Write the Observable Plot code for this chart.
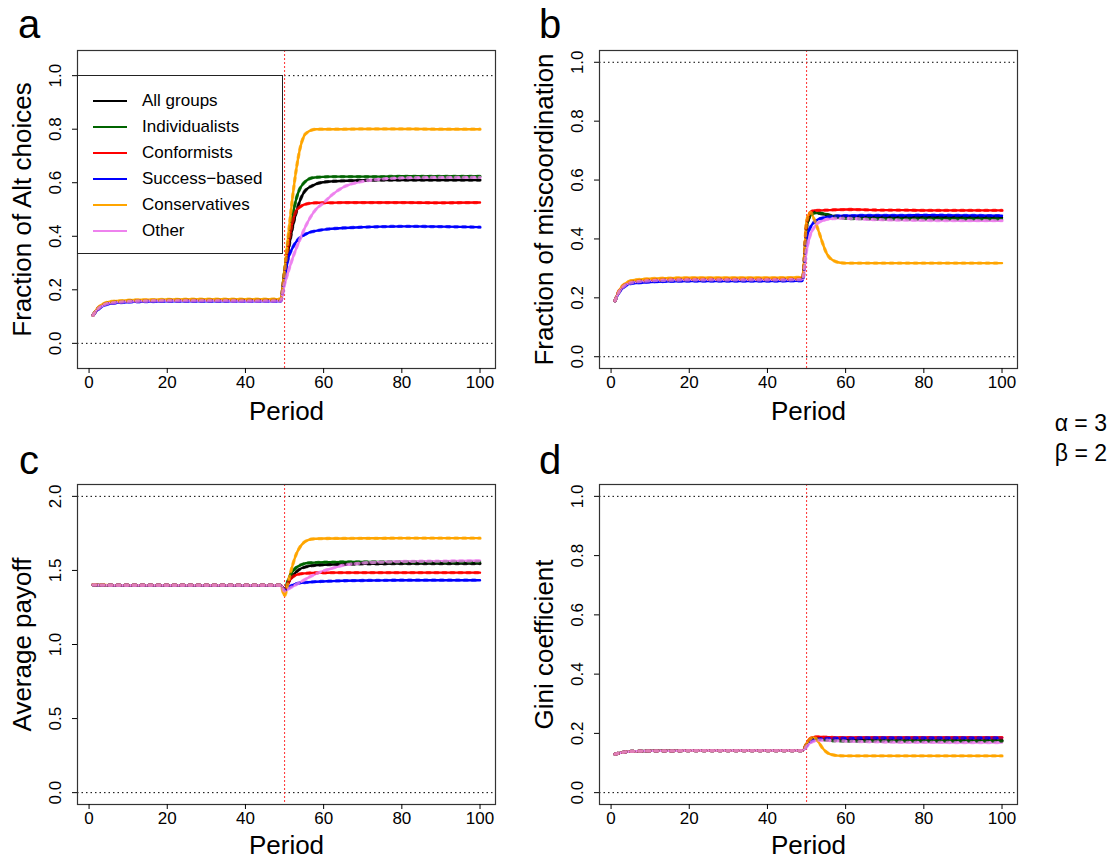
<!DOCTYPE html>
<html>
<head>
<meta charset="utf-8">
<script src="https://cdn.jsdelivr.net/npm/d3@7"></script>
<script src="https://cdn.jsdelivr.net/npm/@observablehq/plot@0.6"></script>
<style>
  body { margin: 0; background: #fff; }
  #root { position: relative; width: 1110px; height: 859px; background: #fff;
          font-family: "Liberation Sans", Arial, Helvetica, sans-serif; color: #000; }
  .panel { position: absolute; }
  .plab { position: absolute; font-size: 40px; line-height: 40px; }
  g[aria-label="x-axis label"], g[aria-label="y-axis label"] { font-size: 26px; }
  #legend { position: absolute; background: #fff; border: 1px solid #222; box-sizing: border-box; }
  .lrow { position: absolute; left: 0; height: 20px; font-size: 17px; line-height: 20px; white-space: nowrap; }
  .lsw { position: absolute; left: 15px; top: 9px; width: 34px; height: 2px; }
  .ltx { position: absolute; left: 64px; top: 0; }
  #params { position: absolute; right: 3px; top: 408px; font-size: 23px; line-height: 30px; text-align: right; }
</style>
</head>
<body>
<div id="root"></div>
<script>
// ---------------- data ----------------
const periods = [1,2,3,4,5,7,10,15,20,30,40,49,50,51,52,53,54,55,56,57,58,60,62,65,70,75,80,90,100];
const groups = ["All groups","Individualists","Conformists","Success\u2212based","Conservatives","Other"];
const groupColors = ["#000000","#006400","#ff0000","#0000ff","#ffa500","#ee82ee"];
const xTicks = [0,20,40,60,80,100];
const switchPeriod = [50];

// a: Fraction of Alt choices
const altAll = [0.105,0.125,0.138,0.146,0.150,0.154,0.157,0.159,0.160,0.160,0.160,0.160, 0.26,0.35,0.43,0.49,0.535,0.565,0.58,0.588,0.595,0.602,0.605,0.607,0.609,0.61,0.61,0.61,0.61];
const altInd = [0.105,0.126,0.139,0.147,0.151,0.155,0.158,0.160,0.161,0.161,0.161,0.161, 0.27,0.38,0.47,0.54,0.58,0.60,0.612,0.618,0.62,0.622,0.623,0.623,0.623,0.623,0.624,0.624,0.624];
const altCon = [0.105,0.125,0.138,0.146,0.150,0.154,0.157,0.159,0.160,0.160,0.160,0.160, 0.26,0.37,0.45,0.495,0.51,0.518,0.522,0.524,0.525,0.525,0.525,0.526,0.526,0.526,0.526,0.525,0.526];
const altSuc = [0.105,0.122,0.135,0.143,0.147,0.151,0.154,0.156,0.157,0.157,0.157,0.157, 0.24,0.32,0.355,0.38,0.395,0.405,0.412,0.417,0.42,0.425,0.428,0.431,0.434,0.436,0.437,0.436,0.434];
const altCsv = [0.105,0.128,0.142,0.150,0.155,0.158,0.161,0.163,0.164,0.165,0.165,0.166, 0.27,0.41,0.54,0.65,0.73,0.775,0.79,0.797,0.80,0.80,0.80,0.80,0.801,0.801,0.801,0.80,0.80];
const altOth = [0.105,0.124,0.137,0.145,0.149,0.153,0.156,0.158,0.159,0.159,0.158,0.158, 0.22,0.27,0.315,0.355,0.39,0.425,0.455,0.48,0.50,0.525,0.553,0.583,0.605,0.614,0.618,0.62,0.62];

// b: Fraction of miscoordination
const misAll = [0.19,0.220,0.237,0.247,0.252,0.256,0.259,0.261,0.262,0.262,0.262,0.263, 0.44,0.48,0.49,0.488,0.485,0.482,0.48,0.478,0.477,0.476,0.476,0.475,0.475,0.474,0.474,0.474,0.474];
const misInd = [0.19,0.220,0.237,0.247,0.252,0.256,0.259,0.260,0.261,0.261,0.261,0.262, 0.44,0.48,0.488,0.488,0.487,0.484,0.48,0.476,0.473,0.47,0.469,0.469,0.468,0.468,0.468,0.468,0.468];
const misCon = [0.19,0.222,0.239,0.249,0.254,0.258,0.261,0.263,0.264,0.264,0.264,0.265, 0.45,0.49,0.497,0.497,0.497,0.498,0.498,0.499,0.499,0.50,0.50,0.499,0.498,0.498,0.497,0.497,0.497];
const misSuc = [0.19,0.217,0.233,0.243,0.248,0.251,0.254,0.256,0.257,0.257,0.257,0.258, 0.40,0.44,0.458,0.467,0.471,0.474,0.476,0.477,0.478,0.479,0.479,0.48,0.48,0.48,0.481,0.48,0.479];
const misCsv = [0.19,0.223,0.242,0.252,0.258,0.262,0.265,0.267,0.268,0.268,0.268,0.270, 0.46,0.49,0.465,0.43,0.39,0.355,0.335,0.326,0.321,0.318,0.318,0.318,0.318,0.318,0.318,0.318,0.318];
const misOth = [0.19,0.219,0.236,0.246,0.251,0.255,0.258,0.260,0.261,0.261,0.261,0.262, 0.36,0.415,0.44,0.455,0.461,0.466,0.468,0.469,0.47,0.47,0.469,0.467,0.465,0.464,0.463,0.462,0.462];

// c: Average payoff
const payAll = [1.403,1.402,1.401,1.401,1.400,1.400,1.400,1.400,1.400,1.400,1.400,1.400, 1.37,1.42,1.46,1.49,1.51,1.52,1.527,1.532,1.535,1.538,1.54,1.542,1.544,1.545,1.546,1.546,1.546];
const payInd = [1.403,1.402,1.401,1.401,1.400,1.400,1.400,1.400,1.400,1.400,1.400,1.400, 1.37,1.44,1.49,1.52,1.535,1.545,1.55,1.552,1.553,1.555,1.556,1.557,1.557,1.557,1.557,1.557,1.557];
const payCon = [1.403,1.402,1.401,1.401,1.400,1.400,1.400,1.400,1.400,1.400,1.400,1.400, 1.37,1.42,1.455,1.47,1.477,1.48,1.482,1.483,1.484,1.484,1.485,1.485,1.485,1.485,1.485,1.485,1.485];
const paySuc = [1.403,1.402,1.401,1.401,1.400,1.400,1.400,1.400,1.400,1.400,1.400,1.400, 1.365,1.385,1.40,1.41,1.415,1.418,1.42,1.422,1.424,1.426,1.428,1.43,1.432,1.433,1.434,1.434,1.434];
const payCsv = [1.404,1.403,1.402,1.402,1.401,1.401,1.401,1.401,1.401,1.401,1.401,1.401, 1.33,1.43,1.53,1.61,1.66,1.69,1.705,1.712,1.714,1.715,1.716,1.716,1.717,1.717,1.718,1.718,1.718];
const payOth = [1.403,1.402,1.401,1.401,1.400,1.400,1.400,1.400,1.400,1.400,1.400,1.400, 1.36,1.375,1.39,1.405,1.42,1.435,1.45,1.464,1.477,1.497,1.513,1.535,1.55,1.556,1.56,1.563,1.565];

// d: Gini coefficient
const giniAll = [0.130,0.133,0.136,0.138,0.139,0.140,0.141,0.141,0.142,0.142,0.142,0.142, 0.162,0.178,0.183,0.182,0.181,0.18,0.179,0.178,0.178,0.177,0.177,0.177,0.176,0.176,0.176,0.176,0.176];
const giniInd = [0.130,0.133,0.136,0.138,0.139,0.140,0.141,0.141,0.142,0.142,0.142,0.142, 0.163,0.18,0.184,0.181,0.179,0.178,0.176,0.175,0.175,0.174,0.174,0.174,0.174,0.174,0.174,0.174,0.174];
const giniCon = [0.130,0.133,0.136,0.138,0.139,0.140,0.141,0.141,0.142,0.142,0.142,0.142, 0.165,0.183,0.188,0.188,0.188,0.187,0.187,0.186,0.186,0.186,0.186,0.186,0.186,0.186,0.186,0.186,0.186];
const giniSuc = [0.130,0.133,0.136,0.138,0.139,0.140,0.141,0.141,0.142,0.142,0.142,0.142, 0.158,0.172,0.178,0.181,0.182,0.183,0.183,0.184,0.184,0.184,0.184,0.185,0.185,0.185,0.185,0.185,0.185];
const giniCsv = [0.130,0.133,0.136,0.138,0.139,0.140,0.141,0.141,0.142,0.142,0.142,0.142, 0.165,0.182,0.186,0.172,0.152,0.138,0.130,0.127,0.125,0.124,0.124,0.124,0.124,0.124,0.124,0.124,0.124];
const giniOth = [0.130,0.133,0.136,0.138,0.139,0.140,0.141,0.141,0.142,0.142,0.142,0.142, 0.155,0.168,0.174,0.177,0.177,0.177,0.176,0.175,0.175,0.174,0.173,0.172,0.171,0.170,0.170,0.169,0.169];

const altTicks = [0,0.2,0.4,0.6,0.8,1.0];
const misTicks = [0,0.2,0.4,0.6,0.8,1.0];
const payTicks = [0,0.5,1.0,1.5,2.0];
const giniTicks = [0,0.2,0.4,0.6,0.8,1.0];
const altRef = [0,1], misRef = [0,1], payRef = [0,2], giniRef = [0,1];

// ---------------- layout ----------------
const panels = [
  {tag:"a", left:0,   top:0,   w:555, h:430, mt:50, mb:62, ml:77, mr:60, xlo:51, ylabel:"Fraction of Alt choices",     ydom:[-0.094,1.094], yticks:altTicks,  ref:altRef,  series:[altAll,altInd,altCon,altSuc,altCsv,altOth], tagPos:[18,4]},
  {tag:"b", left:520, top:0,   w:555, h:430, mt:50, mb:62, ml:79, mr:58, xlo:51, ylabel:"Fraction of miscoordination", ydom:[-0.04,1.04],   yticks:misTicks,  ref:misRef,  series:[misAll,misInd,misCon,misSuc,misCsv,misOth], tagPos:[539,4]},
  {tag:"c", left:0,   top:430, w:555, h:429, mt:54, mb:55, ml:77, mr:60, xlo:49, ylabel:"Average payoff",              ydom:[-0.08,2.08],   yticks:payTicks,  ref:payRef,  series:[payAll,payInd,payCon,paySuc,payCsv,payOth], tagPos:[19,440]},
  {tag:"d", left:520, top:430, w:555, h:429, mt:54, mb:55, ml:79, mr:58, xlo:49, ylabel:"Gini coefficient",            ydom:[-0.04,1.04],   yticks:giniTicks, ref:giniRef, series:[giniAll,giniInd,giniCon,giniSuc,giniCsv,giniOth], tagPos:[539,440]}
];

const root = document.getElementById("root");

for (const p of panels) {
  const data = [];
  p.series.forEach((arr, gi) => {
    arr.forEach((v, j) => data.push({period: periods[j], value: v, group: groups[gi]}));
  });
  const chart = Plot.plot({
    width: p.w, height: p.h,
    marginTop: p.mt, marginBottom: p.mb, marginLeft: p.ml, marginRight: p.mr,
    style: {fontFamily: '"Liberation Sans", Arial, sans-serif', fontSize: "17px", background: "transparent", color: "#000"},
    x: {domain: [-2.96, 103.96]},
    y: {domain: p.ydom},
    color: {domain: groups, range: groupColors},
    marks: [
      Plot.ruleY(p.ref, {stroke: "#000", strokeWidth: 1, strokeDasharray: "1.5,3"}),
      Plot.ruleX(switchPeriod, {stroke: "#ff2020", strokeWidth: 1.1, strokeDasharray: "2,2", strokeOpacity: 0.85}),
      Plot.line(data, {x: "period", y: "value", z: "group", stroke: "group", strokeWidth: 2.4, curve: "monotone-x"}),
      Plot.line(data, {x: "period", y: "value", z: "group", stroke: "group", strokeWidth: 3.3, strokeDasharray: "3,5", curve: "monotone-x", strokeOpacity: 0.7}),
      Plot.frame({stroke: "#333", strokeWidth: 1.2}),
      Plot.axisX({ticks: xTicks, tickSize: 5, tickPadding: 2, tickFormat: d => String(d),
                  label: "Period", labelAnchor: "center", labelArrow: "none", labelOffset: p.xlo}),
      Plot.axisY({ticks: p.yticks, tickSize: 5, tickPadding: 12, tickRotate: -90, tickFormat: d3.format(".1f"),
                  label: p.ylabel, labelAnchor: "center", labelArrow: "none", labelOffset: 65})
    ]
  });
  const div = document.createElement("div");
  div.className = "panel";
  div.style.left = p.left + "px";
  div.style.top = p.top + "px";
  div.style.width = p.w + "px";
  div.style.height = p.h + "px";
  div.appendChild(chart);
  root.appendChild(div);

  const tag = document.createElement("div");
  tag.className = "plab";
  tag.textContent = p.tag;
  tag.style.left = p.tagPos[0] + "px";
  tag.style.top = p.tagPos[1] + "px";
  root.appendChild(tag);
}

// legend (panel a)
const legend = document.createElement("div");
legend.id = "legend";
legend.style.left = "77px"; legend.style.top = "75px";
legend.style.width = "206px"; legend.style.height = "179px";
groups.forEach((g, i) => {
  const row = document.createElement("div");
  row.className = "lrow";
  row.style.top = (15 + 26 * i) + "px";
  const sw = document.createElement("div");
  sw.className = "lsw";
  sw.style.background = groupColors[i];
  const tx = document.createElement("div");
  tx.className = "ltx";
  tx.textContent = g;
  row.appendChild(sw); row.appendChild(tx);
  legend.appendChild(row);
});
root.appendChild(legend);

const params = document.createElement("div");
params.id = "params";
params.innerHTML = "\u03b1 = 3<br>\u03b2 = 2";
root.appendChild(params);
</script>
</body>
</html>
